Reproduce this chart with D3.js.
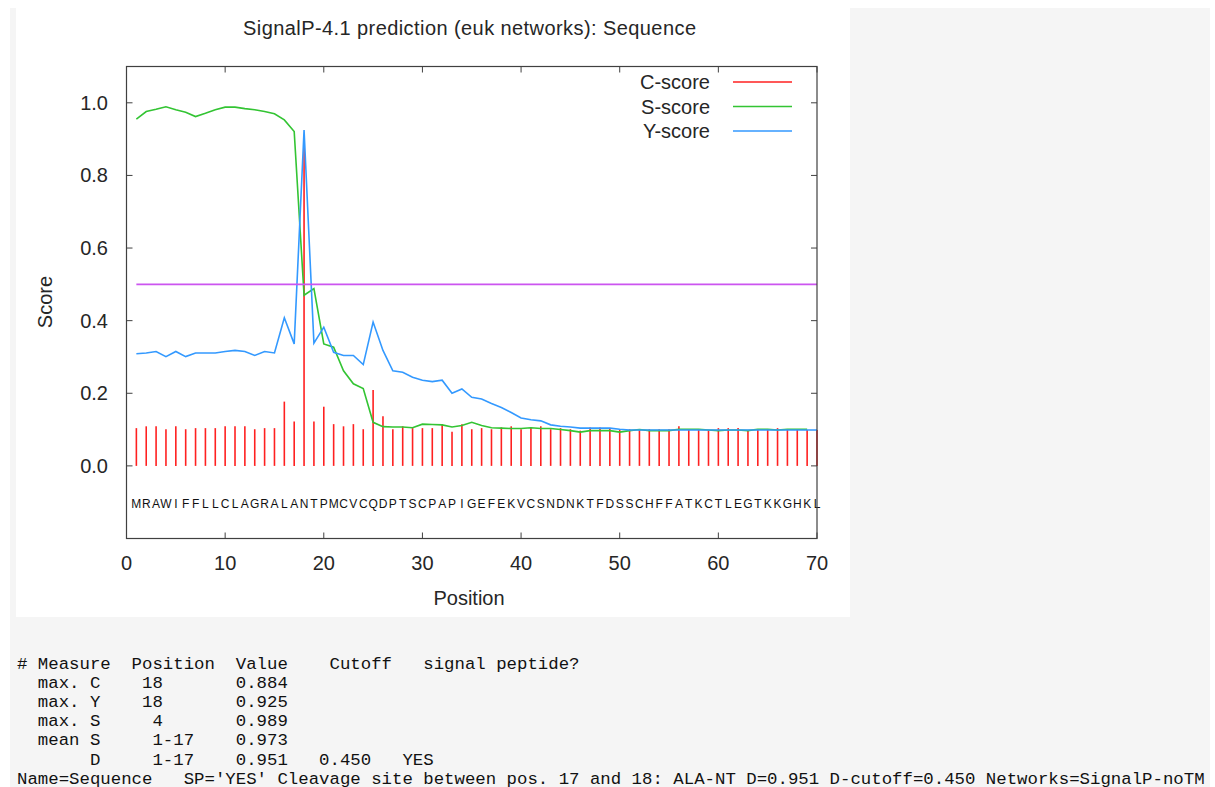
<!DOCTYPE html>
<html><head><meta charset="utf-8">
<script src="https://cdn.jsdelivr.net/npm/d3@7"></script>
<style>html,body{margin:0;padding:0;background:#fff;overflow:hidden}svg{display:block}</style>
</head><body>
<script>
const positions = d3.range(1, 71);
const sequence = "MRAWIFFLLCLAGRALANTPMCVCQDPTSCPAPIGEFEKVCSNDNKTFDSSCHFFATKCTLEGTKKGHKL".split("");
const cScore = [0.104,0.109,0.109,0.101,0.109,0.101,0.104,0.104,0.104,0.109,
  0.109,0.109,0.101,0.104,0.104,0.177,0.122,0.884,0.122,0.163,
  0.115,0.109,0.115,0.101,0.209,0.137,0.101,0.109,0.104,0.104,
  0.104,0.115,0.094,0.115,0.101,0.104,0.101,0.106,0.109,0.101,
  0.106,0.109,0.101,0.104,0.101,0.097,0.106,0.106,0.104,0.101,
  0.101,0.101,0.101,0.101,0.101,0.109,0.101,0.101,0.099,0.104,
  0.104,0.104,0.099,0.101,0.101,0.104,0.101,0.099,0.099,0.099];
const sScore = [0.955,0.976,0.982,0.989,0.981,0.974,0.962,0.971,0.981,0.988,
  0.988,0.984,0.981,0.976,0.970,0.953,0.921,0.470,0.488,0.336,
  0.327,0.262,0.226,0.213,0.120,0.108,0.107,0.107,0.105,0.115,
  0.114,0.113,0.107,0.111,0.120,0.111,0.105,0.104,0.103,0.103,
  0.105,0.103,0.103,0.100,0.097,0.093,0.097,0.097,0.097,0.093,
  0.097,0.100,0.097,0.097,0.097,0.101,0.101,0.101,0.099,0.097,
  0.099,0.099,0.097,0.101,0.101,0.099,0.101,0.101,0.101];
const yScore = [0.309,0.311,0.315,0.301,0.315,0.301,0.311,0.311,0.311,0.315,
  0.318,0.315,0.304,0.315,0.311,0.408,0.336,0.925,0.338,0.382,
  0.313,0.304,0.304,0.279,0.396,0.318,0.262,0.258,0.244,0.236,
  0.232,0.236,0.200,0.212,0.189,0.184,0.172,0.161,0.147,0.132,
  0.127,0.124,0.113,0.109,0.107,0.104,0.104,0.104,0.104,0.101,
  0.099,0.099,0.099,0.099,0.099,0.099,0.099,0.099,0.099,0.099,
  0.099,0.099,0.099,0.099,0.099,0.099,0.099,0.099,0.099,0.099];
const threshold = 0.5;
const xTicks = [0,10,20,30,40,50,60,70];
const yTicks = [0.0,0.2,0.4,0.6,0.8,1.0];
const legendLabels = ["C-score","S-score","Y-score"];
const reportLines = [
"# Measure  Position  Value    Cutoff   signal peptide?",
"  max. C    18       0.884",
"  max. Y    18       0.925",
"  max. S     4       0.989",
"  mean S     1-17    0.973",
"       D     1-17    0.951   0.450   YES",
"Name=Sequence   SP='YES' Cleavage site between pos. 17 and 18: ALA-NT D=0.951 D-cutoff=0.450 Networks=SignalP-noTM"
];

const W = 1215, H = 787;
const colors = {C:"#ff2020", S:"#33c433", Y:"#3399ff", T:"#cc55f0"};
const svg = d3.select("body").append("svg").attr("width", W).attr("height", H);
svg.append("rect").attr("x",10).attr("y",8).attr("width",1200).attr("height",H-8).attr("fill","#f5f5f5");
svg.append("rect").attr("x",16).attr("y",8).attr("width",834).attr("height",609).attr("fill","#fff");

const x = d3.scaleLinear().domain([0,70]).range([126.5,817]);
const y = d3.scaleLinear().domain([-0.2,1.1]).range([538.5,66.5]);
const font = "'Liberation Sans', Arial, sans-serif";
const txt = "#262626";

// title
svg.append("text").attr("x",243).attr("y",35)
  .attr("font-family",font).attr("font-size",20).attr("fill",txt)
  .attr("textLength",453).attr("lengthAdjust","spacing")
  .text("SignalP-4.1 prediction (euk networks): Sequence");

// C bars
svg.append("g").selectAll("line").data(cScore).join("line")
  .attr("x1",(d,i)=>x(positions[i])).attr("x2",(d,i)=>x(positions[i]))
  .attr("y1",y(0)).attr("y2",d=>y(d))
  .attr("stroke",colors.C).attr("stroke-width",1.6);

const line = d3.line().x((d,i)=>x(positions[i])).y(d=>y(d));
svg.append("path").datum(sScore).attr("d",line).attr("fill","none")
  .attr("stroke",colors.S).attr("stroke-width",1.6);
svg.append("path").datum(yScore).attr("d",line).attr("fill","none")
  .attr("stroke",colors.Y).attr("stroke-width",1.6);
svg.append("line").attr("x1",x(1)).attr("x2",x(70)).attr("y1",y(threshold)).attr("y2",y(threshold))
  .attr("stroke",colors.T).attr("stroke-width",1.8);

// sequence letters
svg.append("g").selectAll("text").data(sequence).join("text")
  .attr("x",(d,i)=>x(positions[i])).attr("y",508).attr("text-anchor","middle")
  .attr("font-family",font).attr("font-size",12).attr("fill","#111").text(d=>d);

// frame
const fc = "#404040";
svg.append("rect").attr("x",x(0)).attr("y",y(1.1)).attr("width",x(70)-x(0)).attr("height",y(-0.2)-y(1.1))
  .attr("fill","none").attr("stroke",fc).attr("stroke-width",1.2);
const tk = 6;
xTicks.forEach(t=>{
  svg.append("line").attr("x1",x(t)).attr("x2",x(t)).attr("y1",y(-0.2)).attr("y2",y(-0.2)-tk).attr("stroke",fc);
  svg.append("line").attr("x1",x(t)).attr("x2",x(t)).attr("y1",y(1.1)).attr("y2",y(1.1)+tk).attr("stroke",fc);
});
yTicks.forEach(t=>{
  svg.append("line").attr("x1",x(0)).attr("x2",x(0)+tk).attr("y1",y(t)).attr("y2",y(t)).attr("stroke",fc);
  svg.append("line").attr("x1",x(70)).attr("x2",x(70)-tk).attr("y1",y(t)).attr("y2",y(t)).attr("stroke",fc);
});
svg.append("g").selectAll("text").data(xTicks).join("text")
  .attr("x",d=>x(d)).attr("y",570).attr("text-anchor","middle")
  .attr("font-family",font).attr("font-size",20).attr("fill",txt).text(d=>d);
svg.append("g").selectAll("text").data(yTicks).join("text")
  .attr("x",108).attr("y",d=>y(d)).attr("dy","0.35em").attr("text-anchor","end")
  .attr("font-family",font).attr("font-size",20).attr("fill",txt).text(d=>d.toFixed(1));

svg.append("text").attr("x",469).attr("y",605).attr("text-anchor","middle")
  .attr("font-family",font).attr("font-size",20).attr("fill",txt).text("Position");
svg.append("text").attr("transform","translate(52,302) rotate(-90)").attr("text-anchor","middle")
  .attr("font-family",font).attr("font-size",20).attr("fill",txt).text("Score");

// legend
const legColors = [colors.C, colors.S, colors.Y];
legendLabels.forEach((l,i)=>{
  const ly = 82 + i*24.5;
  svg.append("text").attr("x",710).attr("y",ly).attr("dy","0.35em").attr("text-anchor","end")
    .attr("font-family",font).attr("font-size",20).attr("fill",txt).text(l);
  svg.append("line").attr("x1",733).attr("x2",792).attr("y1",ly).attr("y2",ly)
    .attr("stroke",legColors[i]).attr("stroke-width",1.6);
});

// report text
svg.append("g").selectAll("text").data(reportLines).join("text")
  .attr("x",17).attr("y",(d,i)=>669 + i*19.1)
  .attr("font-family","'Liberation Mono', 'Courier New', monospace").attr("font-size",17.37)
  .attr("fill","#111").style("white-space","pre").text(d=>d);
</script>
</body></html>
